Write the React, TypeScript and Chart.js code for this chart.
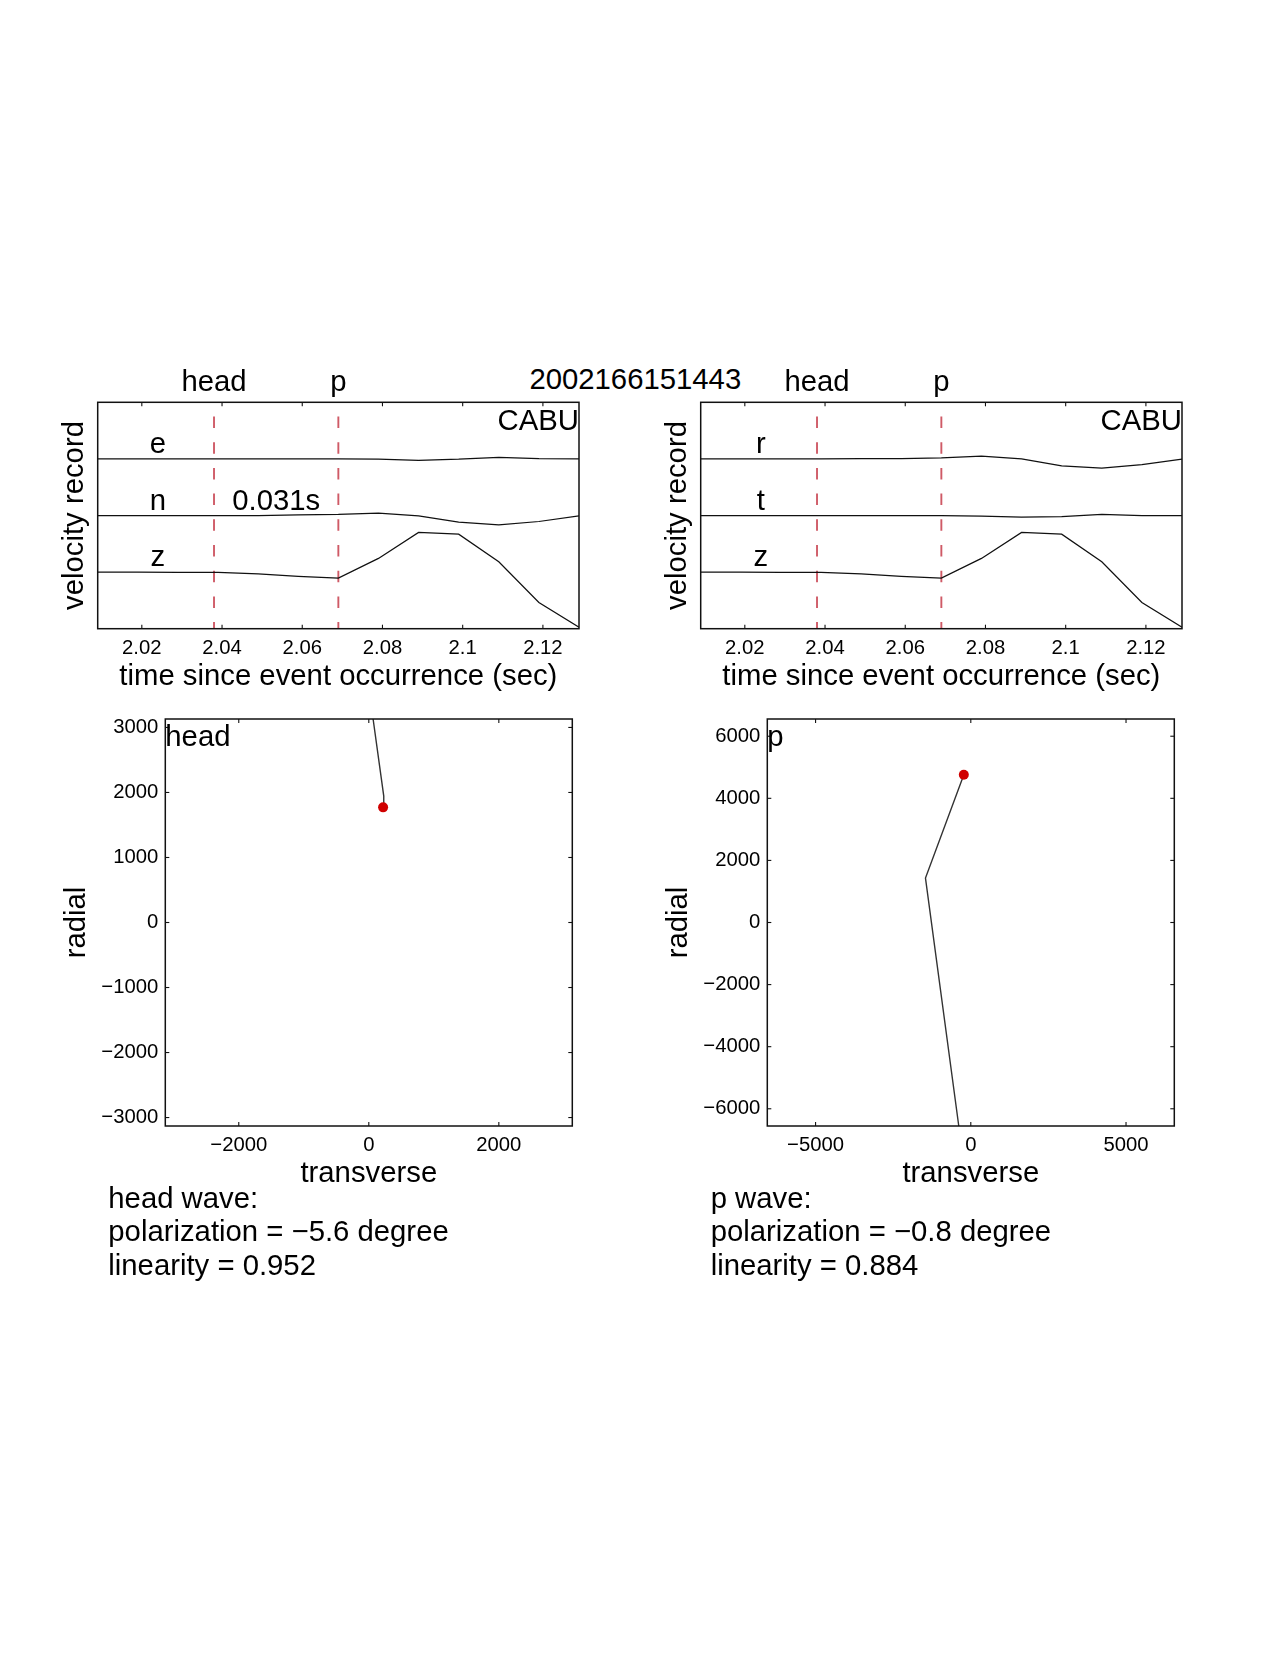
import React, { useEffect, useRef } from 'react';
import { Chart, registerables } from 'chart.js';

Chart.register(...registerables);

// ---------------- data ----------------
const EVENT_ID = '2002166151443';
const STATION = 'CABU';

const TIMES = [2.009, 2.019, 2.029, 2.039, 2.049, 2.059, 2.069, 2.079, 2.089, 2.099, 2.109, 2.119, 2.129];
// normalised velocity of each component (deviation from its trace baseline)
const E_VEL = [0, 0, 0, 0, 0, 0, 0, -0.006, -0.024, -0.006, 0.029, 0.006, 0];
const N_VEL = [0, 0, 0, 0, 0, 0.012, 0.018, 0.041, -0.006, -0.118, -0.165, -0.106, -0.006];
const Z_VEL = [0, 0, -0.003, -0.006, -0.03, -0.075, -0.106, 0.242, 0.701, 0.671, 0.183, -0.536, -0.972];
const R_VEL = [0, 0, 0, 0, 0.003, 0.006, 0.018, 0.047, 0, -0.124, -0.165, -0.1, -0.006];
const T_VEL = [0, 0, 0, 0, 0, 0, 0, -0.012, -0.029, -0.018, 0.018, 0, 0];

const LEFT_COMPONENTS = ['e', 'n', 'z'];
const RIGHT_COMPONENTS = ['r', 't', 'z'];
const TRACE_OFFSETS = [3, 2, 1];
const TRACE_RANGE = [0, 4];

const HEAD_TIME = 2.038;
const P_TIME = 2.069;
const TIME_TICKS = [2.02, 2.04, 2.06, 2.08, 2.1, 2.12];

// particle motion (transverse, radial)
const HEAD_TRANSVERSE = [220, 230, 66];
const HEAD_RADIAL = [1771, 1945, 3130];
const P_TRANSVERSE = [-225, -1460, -387];
const P_RADIAL = [4760, 1431, -6555];

const HEAD_X_TICKS = [-2000, 0, 2000];
const HEAD_Y_TICKS = [-3000, -2000, -1000, 0, 1000, 2000, 3000];
const P_X_TICKS = [-5000, 0, 5000];
const P_Y_TICKS = [-6000, -4000, -2000, 0, 2000, 4000, 6000];

const HEAD_POLARIZATION = -5.6;
const HEAD_LINEARITY = 0.952;
const P_POLARIZATION = -0.8;
const P_LINEARITY = 0.884;

// ---------------- styling ----------------
const FONT = "'Liberation Sans', Arial, Helvetica, sans-serif";
const BIG = 29.3;
const TICK = 20.3;
const PICK_COLOR = '#cf5a66';
const TRACE_COLOR = '#111111';
const MOTION_COLOR = '#333333';
const DOT_COLOR = '#d00000';
const BASELINE_FROM_TOP = 0.8465; // alphabetic baseline offset inside a line box of line-height = font-size

const fmtSigned = (v: number) => (v < 0 ? '\u2212' + String(Math.abs(v)) : String(v));
const fmtTime = (v: number) => String(Number(v.toFixed(2)));

// ---------------- plugins ----------------
const framePlugin = {
  id: 'frame',
  afterDraw(chart: any, _args: any, opts: any) {
    const { ctx, chartArea: a, scales } = chart;
    const L = 4;
    ctx.save();
    ctx.strokeStyle = '#111';
    ctx.lineWidth = 1.1;
    const seg = (x1: number, y1: number, x2: number, y2: number) => {
      ctx.beginPath();
      ctx.moveTo(x1, y1);
      ctx.lineTo(x2, y2);
      ctx.stroke();
    };
    for (const t of scales.x.ticks) {
      const px = scales.x.getPixelForValue(t.value);
      seg(px, a.bottom, px, a.bottom - L);
      seg(px, a.top, px, a.top + L);
    }
    if (opts && opts.yTicks) {
      for (const t of scales.y.ticks) {
        const py = scales.y.getPixelForValue(t.value);
        seg(a.left, py, a.left + L, py);
        seg(a.right, py, a.right - L, py);
      }
    }
    ctx.lineWidth = 1.5;
    ctx.strokeRect(a.left, a.top, a.right - a.left, a.bottom - a.top);
    ctx.restore();
  },
};

const seisTextPlugin = {
  id: 'seisText',
  afterDraw(chart: any, _args: any, o: any) {
    const { ctx, scales } = chart;
    const x = scales.x;
    const y = scales.y;
    ctx.save();
    ctx.fillStyle = '#000';
    ctx.font = `${BIG}px ${FONT}`;
    ctx.textBaseline = 'middle';
    ctx.textAlign = 'center';
    o.labels.forEach((lab: string, i: number) => {
      ctx.fillText(lab, x.getPixelForValue(o.labelTime), y.getPixelForValue(TRACE_OFFSETS[i] + o.labelRaise));
    });
    ctx.fillText('head', x.getPixelForValue(HEAD_TIME), y.getPixelForValue(o.pickLabelY));
    ctx.fillText('p', x.getPixelForValue(P_TIME), y.getPixelForValue(o.pickLabelY));
    if (o.showDelay) {
      const d = (P_TIME - HEAD_TIME).toFixed(3) + 's';
      ctx.fillText(d, x.getPixelForValue((P_TIME + HEAD_TIME) / 2), y.getPixelForValue(TRACE_OFFSETS[1] + o.labelRaise));
    }
    ctx.textAlign = 'right';
    ctx.fillText(STATION, x.getPixelForValue(x.max), y.getPixelForValue(o.stationY));
    ctx.restore();
  },
};

const motionTextPlugin = {
  id: 'motionText',
  afterDraw(chart: any, _args: any, o: any) {
    const { ctx, scales } = chart;
    ctx.save();
    ctx.fillStyle = '#000';
    ctx.font = `${BIG}px ${FONT}`;
    ctx.textBaseline = 'middle';
    ctx.textAlign = 'left';
    ctx.fillText(o.label, scales.x.getPixelForValue(scales.x.min), scales.y.getPixelForValue(scales.y.max * o.labelFrac));
    ctx.restore();
  },
};

// ---------------- configs ----------------
function seisConfig(labels: string[], vels: number[][], showDelay: boolean): any {
  const traces = vels.map((v, i) => ({
    data: TIMES.map((t, k) => ({ x: t, y: TRACE_OFFSETS[i] + v[k] })),
    showLine: true,
    borderColor: TRACE_COLOR,
    borderWidth: 1.25,
    pointRadius: 0,
    tension: 0,
  }));
  const pick = (t: number) => ({
    data: [
      { x: t, y: TRACE_RANGE[1] },
      { x: t, y: TRACE_RANGE[0] },
    ],
    showLine: true,
    borderColor: PICK_COLOR,
    borderWidth: 1.9,
    borderDash: [11.5, 14.2],
    borderDashOffset: 11.5,
    pointRadius: 0,
  });
  return {
    type: 'scatter',
    data: { datasets: [...traces, pick(HEAD_TIME), pick(P_TIME)] },
    options: {
      responsive: false,
      maintainAspectRatio: false,
      animation: false,
      devicePixelRatio: 1,
      events: [],
      layout: { padding: { left: 0, right: 21, top: 52.3, bottom: 0 } },
      plugins: {
        legend: { display: false },
        tooltip: { enabled: false },
        frame: { yTicks: false },
        seisText: { labels, showDelay, labelTime: 2.024, labelRaise: 0.245, pickLabelY: 4.345, stationY: 3.65 },
      },
      scales: {
        x: {
          type: 'linear',
          position: 'bottom',
          min: TIMES[0],
          max: TIMES[TIMES.length - 1],
          afterBuildTicks: (s: any) => {
            s.ticks = TIME_TICKS.map((v) => ({ value: v }));
          },
          afterFit: (s: any) => {
            s.height = 71.3;
          },
          grid: { display: false, drawTicks: false },
          border: { display: false },
          ticks: {
            autoSkip: false,
            maxRotation: 0,
            padding: 7.4,
            color: '#000',
            font: { family: FONT, size: TICK },
            callback: (v: any) => fmtTime(Number(v)),
          },
          title: {
            display: true,
            text: 'time since event occurrence (sec)',
            color: '#000',
            font: { family: FONT, size: BIG },
            padding: { top: 0, bottom: 5.3 },
          },
        },
        y: {
          type: 'linear',
          min: TRACE_RANGE[0],
          max: TRACE_RANGE[1],
          afterFit: (s: any) => {
            s.width = 57.7;
          },
          grid: { display: false, drawTicks: false },
          border: { display: false },
          ticks: { display: false },
          title: {
            display: true,
            text: 'velocity record',
            color: '#000',
            font: { family: FONT, size: BIG },
            padding: { top: 17.5, bottom: 0 },
          },
        },
      },
    },
    plugins: [framePlugin, seisTextPlugin],
  };
}

function motionConfig(label: string, tr: number[], rad: number[], xTicks: number[], yTicks: number[]): any {
  const lim = Math.max(...tr.map(Math.abs), ...rad.map(Math.abs));
  return {
    type: 'scatter',
    data: {
      datasets: [
        {
          data: [{ x: tr[0], y: rad[0] }],
          pointRadius: 5,
          pointBackgroundColor: DOT_COLOR,
          pointBorderColor: DOT_COLOR,
          pointBorderWidth: 0,
          showLine: false,
        },
        {
          data: tr.map((t, i) => ({ x: t, y: rad[i] })),
          showLine: true,
          borderColor: MOTION_COLOR,
          borderWidth: 1.4,
          pointRadius: 0,
          tension: 0,
        },
      ],
    },
    options: {
      responsive: false,
      maintainAspectRatio: false,
      animation: false,
      devicePixelRatio: 1,
      events: [],
      layout: { padding: { left: 0, right: 27.7, top: 29, bottom: 0 } },
      plugins: {
        legend: { display: false },
        tooltip: { enabled: false },
        frame: { yTicks: true },
        motionText: { label, labelFrac: 0.905 },
      },
      scales: {
        x: {
          type: 'linear',
          position: 'bottom',
          min: -lim,
          max: lim,
          afterBuildTicks: (s: any) => {
            s.ticks = xTicks.map((v) => ({ value: v }));
          },
          afterFit: (s: any) => {
            s.height = 84;
          },
          grid: { display: false, drawTicks: false },
          border: { display: false },
          ticks: {
            autoSkip: false,
            maxRotation: 0,
            padding: 7,
            color: '#000',
            font: { family: FONT, size: TICK },
            callback: (v: any) => fmtSigned(Number(v)),
          },
          title: {
            display: true,
            text: 'transverse',
            color: '#000',
            font: { family: FONT, size: BIG },
            padding: { top: 0, bottom: 18.9 },
          },
        },
        y: {
          type: 'linear',
          min: -lim,
          max: lim,
          afterBuildTicks: (s: any) => {
            s.ticks = yTicks.map((v) => ({ value: v }));
          },
          afterFit: (s: any) => {
            s.width = 125.3;
          },
          grid: { display: false, drawTicks: false },
          border: { display: false },
          ticks: {
            autoSkip: false,
            padding: 7,
            color: '#000',
            font: { family: FONT, size: TICK },
            callback: (v: any) => fmtSigned(Number(v)),
          },
          title: {
            display: true,
            text: 'radial',
            color: '#000',
            font: { family: FONT, size: BIG },
            padding: { top: 19, bottom: 0 },
          },
        },
      },
    },
    plugins: [framePlugin, motionTextPlugin],
  };
}

// ---------------- components ----------------
function ChartCanvas(props: { left: number; top: number; width: number; height: number; make: () => any }) {
  const ref = useRef<HTMLCanvasElement | null>(null);
  useEffect(() => {
    if (!ref.current) return;
    const chart = new Chart(ref.current, props.make());
    return () => chart.destroy();
  }, []);
  return (
    <canvas
      ref={ref}
      width={props.width}
      height={props.height}
      style={{ position: 'absolute', left: props.left, top: props.top, width: props.width, height: props.height }}
    />
  );
}

const textStyle = (left: number, baseline: number): React.CSSProperties => ({
  position: 'absolute',
  left,
  top: baseline - BASELINE_FROM_TOP * BIG,
  fontFamily: FONT,
  fontSize: BIG,
  lineHeight: `${BIG}px`,
  whiteSpace: 'nowrap',
  color: '#000',
});

function Summary(props: { left: number; name: string; pol: number; lin: number }) {
  const lines = [
    `${props.name} wave:`,
    `polarization = ${fmtSigned(props.pol)} degree`,
    `linearity = ${props.lin.toFixed(3)}`,
  ];
  const baselines = [1207.8, 1241.3, 1274.8];
  return (
    <>
      {lines.map((l, i) => (
        <div key={i} style={textStyle(props.left, baselines[i])}>
          {l}
        </div>
      ))}
    </>
  );
}

export default function App() {
  return (
    <div style={{ position: 'absolute', left: 0, top: 0, width: 1280, height: 1656, background: '#fff', overflow: 'hidden' }}>
      <div style={{ ...textStyle(435.3, 389.3), width: 400, textAlign: 'center' }}>{EVENT_ID}</div>
      <ChartCanvas left={40} top={350} width={560} height={350} make={() => seisConfig(LEFT_COMPONENTS, [E_VEL, N_VEL, Z_VEL], true)} />
      <ChartCanvas left={642.6} top={350} width={560} height={350} make={() => seisConfig(RIGHT_COMPONENTS, [R_VEL, T_VEL, Z_VEL], false)} />
      <ChartCanvas
        left={40}
        top={690}
        width={560}
        height={520}
        make={() => motionConfig('head', HEAD_TRANSVERSE, HEAD_RADIAL, HEAD_X_TICKS, HEAD_Y_TICKS)}
      />
      <ChartCanvas
        left={642.4}
        top={690}
        width={560}
        height={520}
        make={() => motionConfig('p', P_TRANSVERSE, P_RADIAL, P_X_TICKS, P_Y_TICKS)}
      />
      <Summary left={108.3} name="head" pol={HEAD_POLARIZATION} lin={HEAD_LINEARITY} />
      <Summary left={710.7} name="p" pol={P_POLARIZATION} lin={P_LINEARITY} />
    </div>
  );
}
